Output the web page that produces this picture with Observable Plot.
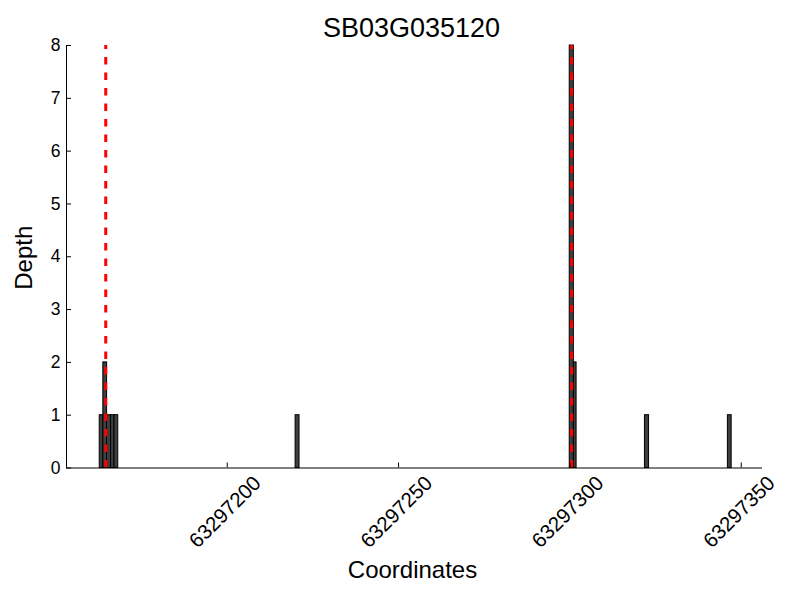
<!DOCTYPE html>
<html><head><meta charset="utf-8">
<script src="https://cdn.jsdelivr.net/npm/d3@7"></script>
<script src="https://cdn.jsdelivr.net/npm/@observablehq/plot@0.6"></script>
<style>body{margin:0;background:#fff}</style>
</head><body><div id="chart"></div>
<script>
const title = "SB03G035120";
const xLabel = "Coordinates";
const yLabel = "Depth";
const binStart = [63297162.8, 63297163.85, 63297164.95, 63297166.1, 63297167.1, 63297219.95, 63297299.95, 63297301.15, 63297321.9, 63297346.1];
const binEnd   = [63297163.85, 63297164.95, 63297166.1, 63297167.1, 63297168.2, 63297221.1, 63297301.15, 63297301.95, 63297323.1, 63297347.2];
const depth    = [1, 2, 1, 1, 1, 1, 8, 2, 1, 1];
const markers  = [63297164.55, 63297300.5];
const xTicks = [63297200, 63297250, 63297300, 63297350];
const yTicks = [0, 1, 2, 3, 4, 5, 6, 7, 8];
const xDomain = [63297153.1, 63297356.2];
const yDomain = [0, 8];

const bars = depth.map((d, i) => ({x1: binStart[i], x2: binEnd[i], depth: d}));

const chart = Plot.plot({
  width: 800, height: 600,
  marginLeft: 66, marginRight: 38, marginTop: 45, marginBottom: 132.5,
  x: {domain: xDomain, axis: null},
  y: {domain: yDomain, axis: null},
  style: {fontFamily: "'Liberation Sans', Arial, sans-serif", background: "white", color: "black", overflow: "visible"},
  marks: [
    Plot.rectY(bars, {x1: "x1", x2: "x2", y1: 0, y2: "depth", fill: "#3f3f3f", stroke: "black", strokeWidth: 1}),
    Plot.ruleX(markers, {x: d => d, y1: yDomain[0], y2: yDomain[1], stroke: "red", strokeWidth: 3, strokeDasharray: "7.5,8"}),
    Plot.ruleY([yDomain[0]], {y: d => d, x1: xDomain[0], x2: xDomain[1], stroke: "black", strokeWidth: 1}),
    Plot.ruleX([xDomain[0]], {x: d => d, y1: yDomain[0], y2: yDomain[1], stroke: "black", strokeWidth: 1}),
    Plot.ruleX(xTicks, {x: d => d, y1: yDomain[0], y2: yDomain[0], insetTop: -5, stroke: "black", strokeWidth: 1}),
    Plot.ruleY(yTicks, {y: d => d, x1: xDomain[0], x2: xDomain[0], insetRight: -5, stroke: "black", strokeWidth: 1}),
    Plot.text(xTicks, {x: d => d, y: yDomain[0], text: d => String(d), rotate: -45, dx: -2, dy: 44, textAnchor: "middle", lineAnchor: "middle", fontSize: 20.5, fill: "black"}),
    Plot.text(yTicks, {x: xDomain[0], y: d => d, text: d => String(d), textAnchor: "end", lineAnchor: "middle", dx: -6, fontSize: 17.5, fill: "black"}),
    Plot.text([title], {text: d => d, frameAnchor: "top", textAnchor: "middle", dx: -3, dy: -17, lineAnchor: "middle", fontSize: 27, fill: "black"}),
    Plot.text([xLabel], {text: d => d, frameAnchor: "bottom", textAnchor: "middle", dx: -2, dy: 102, lineAnchor: "middle", fontSize: 24, fill: "black"}),
    Plot.text([yLabel], {text: d => d, frameAnchor: "left", textAnchor: "middle", dx: -42, dy: 1, rotate: -90, lineAnchor: "middle", fontSize: 24, fill: "black"})
  ]
});
document.getElementById("chart").append(chart);
</script>
</body></html>
